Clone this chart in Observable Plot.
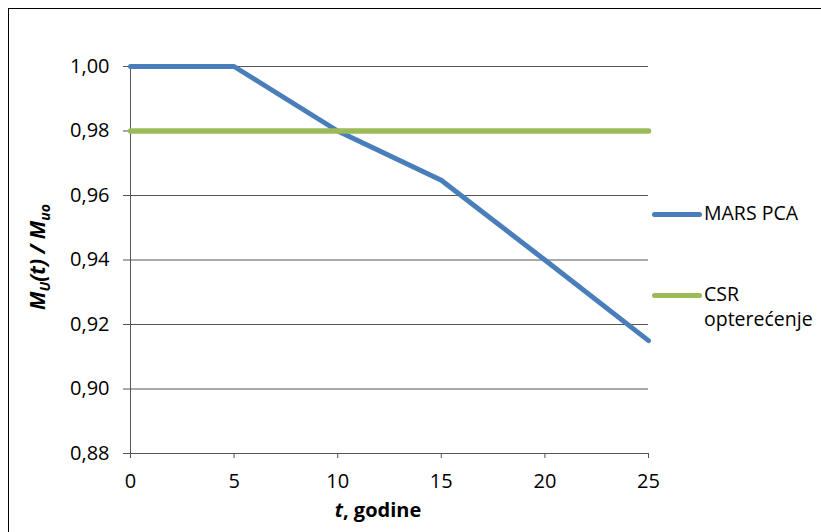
<!DOCTYPE html>
<html>
<head>
<meta charset="utf-8">
<script src="https://cdn.jsdelivr.net/npm/d3@7"></script>
<script src="https://cdn.jsdelivr.net/npm/@observablehq/plot@0.6"></script>
<style>
  html, body { margin: 0; padding: 0; background: #fff; overflow: hidden; }
  #wrap { position: relative; width: 821px; height: 532px; overflow: hidden; font-family: "Open Sans", sans-serif; }
  #border { position: absolute; left: 8px; top: 8px; width: 900px; height: 600px; border: 1.5px solid #000; box-sizing: border-box; }
  #chart { position: absolute; left: 0; top: 0; }
  .leg { position: absolute; font-size: 19.5px; color: #000; line-height: 25px; }
  .sw { position: absolute; height: 5px; border-radius: 3px; width: 50px; }
</style>
</head>
<body>
<div id="wrap">
  <div id="border"></div>
  <div id="chart"></div>
</div>
<script>
// ---- data ----
const years = [0, 5, 10, 15, 20, 25];
const marsPCA = [1.000, 1.000, 0.980, 0.9647, 0.940, 0.915];
const csr = [0.98, 0.98, 0.98, 0.98, 0.98, 0.98];
const seriesNames = ["MARS PCA", "CSR opterećenje"];
const seriesColors = ["#4A7EBB", "#9BBB59"];
const xTicks = [0, 5, 10, 15, 20, 25];
const yTicks = [0.88, 0.90, 0.92, 0.94, 0.96, 0.98, 1.00];

const marsData = years.map((t, i) => ({t, v: marsPCA[i]}));
const csrData = years.map((t, i) => ({t, v: csr[i]}));
const fmt = d => d3.format(".2f")(d).replace(".", ",");
const gridColor = "#555";

const plot = Plot.plot({
  width: 821,
  height: 532,
  marginLeft: 130,
  marginRight: 173,
  marginTop: 66,
  marginBottom: 79,
  style: { fontFamily: "Open Sans, sans-serif", fontSize: "20px", color: "#000", background: "transparent", overflow: "visible" },
  x: { domain: [0, 25], label: null },
  y: { domain: [0.88, 1.0], label: null },
  marks: [
    Plot.ruleY(yTicks, { stroke: gridColor, strokeWidth: 1 }),
    Plot.axisX({ ticks: xTicks, tickSize: 5, tickPadding: 15, label: null, stroke: gridColor, strokeOpacity: 1 }),
    Plot.axisY({ ticks: yTicks, tickSize: 7, tickPadding: 14, label: null, tickFormat: fmt, stroke: gridColor, strokeOpacity: 1 }),
    Plot.ruleX([0], { stroke: gridColor }),
    Plot.ruleY([0.88], { stroke: gridColor }),
    Plot.line(marsData, { x: "t", y: "v", stroke: seriesColors[0], strokeWidth: 5, strokeLinejoin: "miter" }),
    Plot.line(csrData, { x: "t", y: "v", stroke: seriesColors[1], strokeWidth: 5.5 })
  ]
});
document.getElementById("chart").appendChild(plot);

// axis labels with rich text
const svg = d3.select(plot);
const yl = svg.append("text")
  .attr("transform", "translate(45,257) rotate(-90)")
  .attr("text-anchor", "middle")
  .attr("font-family", "Open Sans, sans-serif")
  .attr("font-size", 21)
  .attr("font-weight", "bold")
  .attr("font-style", "italic")
  .attr("fill", "#000");
yl.append("tspan").text("M");
yl.append("tspan").attr("font-size", 14).attr("dy", 5).text("U");
yl.append("tspan").attr("dy", -5).text("(t) / M");
yl.append("tspan").attr("font-size", 14).attr("dy", 5).text("uo");

const xl = svg.append("text")
  .attr("x", 378).attr("y", 517)
  .attr("text-anchor", "middle")
  .attr("font-family", "Open Sans, sans-serif")
  .attr("font-size", 20)
  .attr("font-weight", "bold")
  .attr("fill", "#000");
xl.append("tspan").attr("font-style", "italic").text("t");
xl.append("tspan").text(", godine");

// legend
const wrap = document.getElementById("wrap");
const legY = [214, 295];
seriesNames.forEach((name, i) => {
  const sw = document.createElement("div");
  sw.className = "sw";
  sw.style.left = "652px";
  sw.style.top = (legY[i] - 2.5) + "px";
  sw.style.background = seriesColors[i];
  wrap.appendChild(sw);
  const tx = document.createElement("div");
  tx.className = "leg";
  tx.style.left = "704px";
  tx.style.top = (legY[i] - 14) + "px";
  tx.innerHTML = i === 0 ? name : name.replace(" ", "<br>");
  wrap.appendChild(tx);
});
</script>
</body>
</html>
